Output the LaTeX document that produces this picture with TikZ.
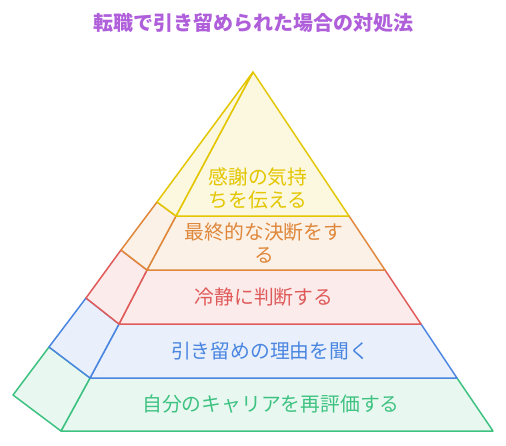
\documentclass[tikz,border=0pt]{standalone}
\usepackage{fontspec}
\setmainfont{Noto Sans CJK JP}
\definecolor{titlepurple}{HTML}{B05FDB}
\definecolor{ylw}{HTML}{E3C600}
\definecolor{org}{HTML}{DF873A}
\definecolor{rd}{HTML}{E05A5A}
\definecolor{blu}{HTML}{4A86E0}
\definecolor{grn}{HTML}{3EC281}
\tikzset{
  layer/.style={draw=#1, fill=#1!12, line width=1.5pt, line join=round},
  layer label/.style={text=#1, font=\fontsize{19.8}{23}\selectfont,
    align=center, inner sep=0pt},
}

\begin{document}
\begin{tikzpicture}[x=1pt, y=-1pt]
\useasboundingbox (0,0) rectangle (506,445);
% corner points of the pyramid
\coordinate (apex) at (253,72);
\coordinate (y1) at (176,216); \coordinate (y2) at (349,216);
\coordinate (o1) at (147,270); \coordinate (o2) at (385,270);
\coordinate (r1) at (119,324); \coordinate (r2) at (421,324);
\coordinate (b1) at (90,378);  \coordinate (b2) at (457,378);
\coordinate (g1) at (61,431);  \coordinate (g2) at (493,431);
% outer corners of the side face
\coordinate (s1) at (157,202);
\coordinate (s2) at (121,250);
\coordinate (s3) at (86,298);
\coordinate (s4) at (49,347);
\coordinate (s5) at (13,395);

% layers, from bottom to top
\draw[layer=grn] (b1) -- (g1) -- (g2) -- (b2) -- cycle;
\draw[layer=grn] (s4) -- (s5) -- (g1) -- (b1) -- cycle;
\draw[layer=blu] (r1) -- (b1) -- (b2) -- (r2) -- cycle;
\draw[layer=blu] (s3) -- (s4) -- (b1) -- (r1) -- cycle;
\draw[layer=rd] (o1) -- (r1) -- (r2) -- (o2) -- cycle;
\draw[layer=rd] (s2) -- (s3) -- (r1) -- (o1) -- cycle;
\draw[layer=org] (y1) -- (o1) -- (o2) -- (y2) -- cycle;
\draw[layer=org] (s1) -- (s2) -- (o1) -- (y1) -- cycle;
\draw[layer=ylw] (apex) -- (y1) -- (y2) -- cycle;
\draw[layer=ylw] (apex) -- (s1) -- (y1) -- cycle;

\node[layer label=ylw] (thanks) at (258,188) {感謝の気持\\ちを伝える};
\node[layer label=org] (decide) at (264,243) {最終的な決断をす\\る};
\node[layer label=rd] (calm) at (264,297) {冷静に判断する};
\node[layer label=blu] (reason) at (270,351) {引き留めの理由を聞く};
\node[layer label=grn] (career) at (271,404) {自分のキャリアを再評価する};

\node[text=titlepurple, font=\fontsize{20}{24}\selectfont\bfseries,
  inner sep=0pt] (title) at (253,23) {転職で引き留められた場合の対処法};
\end{tikzpicture}
\end{document}
